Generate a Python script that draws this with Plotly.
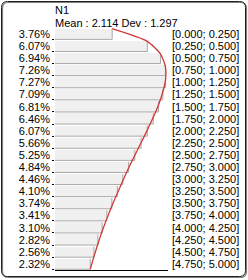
import plotly.graph_objects as go

# ---- data ----
pct_values = [3.76, 6.07, 6.94, 7.26, 7.27, 7.09, 6.81, 6.46, 6.07, 5.66,
              5.25, 4.84, 4.46, 4.10, 3.74, 3.41, 3.10, 2.82, 2.56, 2.32]
pct_labels = ["3.76%", "6.07%", "6.94%", "7.26%", "7.27%", "7.09%", "6.81%", "6.46%",
              "6.07%", "5.66%", "5.25%", "4.84%", "4.46%", "4.10%", "3.74%", "3.41%",
              "3.10%", "2.82%", "2.56%", "2.32%"]
bin_labels = ["[0.000; 0.250]", "[0.250; 0.500]", "[0.500; 0.750]", "[0.750; 1.000]",
              "[1.000; 1.250]", "[1.250; 1.500]", "[1.500; 1.750]", "[1.750; 2.000]",
              "[2.000; 2.250]", "[2.250; 2.500]", "[2.500; 2.750]", "[2.750; 3.000]",
              "[3.000; 3.250]", "[3.250; 3.500]", "[3.500; 3.750]", "[3.750; 4.000]",
              "[4.000; 4.250]", "[4.250; 4.500]", "[4.500; 4.750]", "[4.750; 5.000]"]
title_name = "N1"
title_stats = "Mean : 2.114 Dev : 1.297"

n = len(pct_values)
rows = list(range(n))
half = 0.44

FONT = "Liberation Sans, Arial, sans-serif"
W, H = 248, 280
ML, MR, MT, MB = 55, 80, 28, 10
PW, PH = W - ML - MR, H - MT - MB


def X(px):
    return (px - ML) / PW


def Y(py):
    return (H - MB - py) / PH


fig = go.Figure()

# bars
fig.add_trace(go.Bar(
    x=pct_values, y=rows, orientation="h", width=2 * half,
    marker=dict(color="#f0f0f0", line=dict(width=0)),
    hoverinfo="skip", showlegend=False,
))

# bar edges (bottom and right)
ex, ey = [], []
for i, v in enumerate(pct_values):
    ex += [0, v, v, None]
    ey += [i + half, i + half, i - half, None]
fig.add_trace(go.Scatter(
    x=ex, y=ey, mode="lines", line=dict(color="#a8a8a8", width=1),
    hoverinfo="skip", showlegend=False,
))

# red fitted curve through bar ends
cy = [-half + i * (n - 1 + 2 * half) / (n - 1) for i in rows]
fig.add_trace(go.Scatter(
    x=pct_values, y=cy, mode="lines",
    line=dict(color="#d03838", width=1.3, shape="spline", smoothing=0.6),
    hoverinfo="skip", showlegend=False,
))

# invisible trace for right axis
fig.add_trace(go.Scatter(
    x=[None] * n, y=rows, yaxis="y2", mode="markers",
    marker=dict(opacity=0), hoverinfo="skip", showlegend=False,
))

# frame (rounded) with shadow
def rrect(x0, y0, x1, y1, r):
    return (f"M {X(x0 + r)},{Y(y0)} L {X(x1 - r)},{Y(y0)} "
            f"Q {X(x1)},{Y(y0)} {X(x1)},{Y(y0 + r)} "
            f"L {X(x1)},{Y(y1 - r)} Q {X(x1)},{Y(y1)} {X(x1 - r)},{Y(y1)} "
            f"L {X(x0 + r)},{Y(y1)} Q {X(x0)},{Y(y1)} {X(x0)},{Y(y1 - r)} "
            f"L {X(x0)},{Y(y0 + r)} Q {X(x0)},{Y(y0)} {X(x0 + r)},{Y(y0)} Z")

fig.add_shape(type="path", path=rrect(2.5, 2.5, 246.5, 277.5, 6), xref="paper", yref="paper",
              line=dict(color="#808080", width=1.2), layer="below")
fig.add_shape(type="path", path=rrect(1.5, 1.5, 245.5, 276.5, 6), xref="paper", yref="paper",
              line=dict(color="#202020", width=1), layer="below")

fig.add_annotation(text=title_name, x=X(53), y=Y(10.5), xref="paper", yref="paper",
                   xanchor="left", yanchor="middle", showarrow=False,
                   font=dict(family=FONT, size=11, color="#000000"))
fig.add_annotation(text=title_stats, x=X(53), y=Y(23), xref="paper", yref="paper",
                   xanchor="left", yanchor="middle", showarrow=False,
                   font=dict(family=FONT, size=11, color="#000000"))

fig.update_layout(
    width=W, height=H,
    margin=dict(l=ML, r=MR, t=MT, b=MB, pad=0),
    paper_bgcolor="#ffffff", plot_bgcolor="#ffffff",
    font=dict(family=FONT, size=11, color="#000000"),
    bargap=0,
    xaxis=dict(range=[0, 7.43], showgrid=False, zeroline=False, showticklabels=False,
               ticks="", showline=True, linecolor="#000000", linewidth=1, fixedrange=True),
    yaxis=dict(range=[n - 0.5, -0.5], tickmode="array", tickvals=rows, ticktext=pct_labels,
               showgrid=False, zeroline=False, showline=False, ticks="",
               ticklabelstandoff=4,
               minor=dict(tickmode="array", tickvals=[i + half for i in rows],
                          ticks="outside", ticklen=2, tickcolor="#000000", tickwidth=1,
                          showgrid=False),
               tickfont=dict(family=FONT, size=11), fixedrange=True),
    yaxis2=dict(range=[n - 0.5, -0.5], overlaying="y", side="right", tickmode="array",
                tickvals=rows, ticktext=bin_labels, showgrid=False, zeroline=False,
                showline=False, ticks="", ticklabelstandoff=3,
                tickfont=dict(family=FONT, size=11), fixedrange=True),
    showlegend=False,
)

fig.write_html("out.html", config={"displayModeBar": False})
